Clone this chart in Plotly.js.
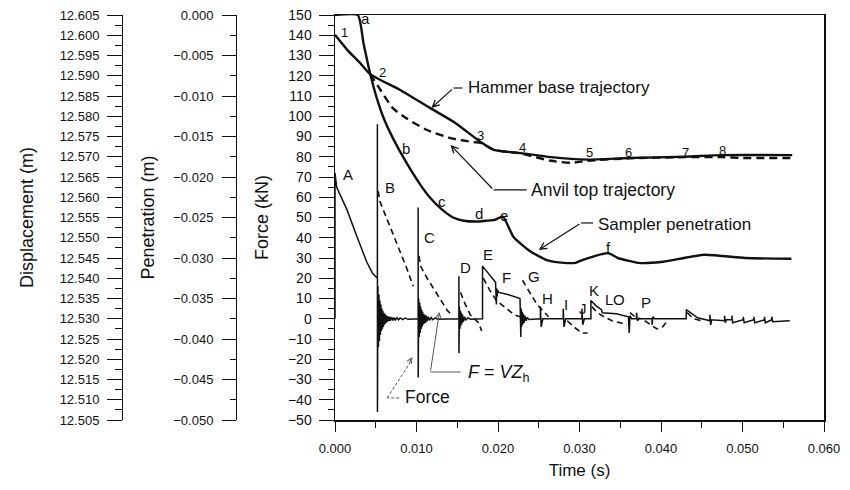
<!DOCTYPE html>
<html><head><meta charset="utf-8">
<script src="https://cdn.plot.ly/plotly-3.0.1.min.js"></script>
<style>html,body{margin:0;padding:0;background:#fff;}#chart{width:850px;height:490px;}</style>
</head><body><div id="chart"></div>
<script>
// ---------- data ----------
// Hammer base trajectory (displacement, m)
const hammerTime = [0, 0.0015, 0.0031, 0.0043, 0.0080, 0.0117, 0.0148, 0.0179, 0.0195, 0.0228, 0.0265, 0.0310, 0.0360, 0.0429, 0.0475, 0.0561];
const hammerDisp = [12.6001, 12.5964, 12.5931, 12.5904, 12.5865, 12.5820, 12.5783, 12.5736, 12.5717, 12.5709, 12.5699, 12.5693, 12.5697, 12.5700, 12.5704, 12.5704];
// Anvil top trajectory (displacement, m)
const anvilTime = [0.0043, 0.0052, 0.0071, 0.0089, 0.0113, 0.0142, 0.0170, 0.0179, 0.0195, 0.0228, 0.0265, 0.0290, 0.0310, 0.0360, 0.0429, 0.0475, 0.0500, 0.0561];
const anvilDisp = [12.5904, 12.5877, 12.5820, 12.5793, 12.5766, 12.5746, 12.5736, 12.5734, 12.5717, 12.5708, 12.5690, 12.5685, 12.5690, 12.5696, 12.5699, 12.5699, 12.5697, 12.5697];
// Sampler penetration (m)
const samplerTime = [0, 0.0028, 0.0035, 0.0043, 0.0052, 0.0060, 0.0071, 0.0088, 0.0105, 0.0117,
  0.0131, 0.0145, 0.0158, 0.0175, 0.0185, 0.0196, 0.0206, 0.0219, 0.0240, 0.0261,
  0.0281, 0.0295, 0.0305, 0.0335, 0.0347, 0.0372, 0.0400, 0.0453, 0.0503, 0.0560];
const samplerPen = [0, 0, -0.0035, -0.0072, -0.0105, -0.0128, -0.0152, -0.0183, -0.0210, -0.0226,
  -0.0240, -0.0250, -0.0254, -0.0255, -0.0254, -0.0253, -0.0249, -0.0274, -0.0292, -0.0303,
  -0.0306, -0.0306, -0.0302, -0.0294, -0.0300, -0.0306, -0.0305, -0.0296, -0.0300, -0.0301];
// Measured force (kN), one pair of arrays per stress-wave event
const forceA_t = [0, 0, 0.0002, 0.0015, 0.0027, 0.0039, 0.0046, 0.0052];
const forceA_f = [0, 72, 65, 53.5, 40.5, 28, 22.5, 20];
const forceB_t = [0.0052, 0.00521, 0.00527, 0.00533, 0.00539, 0.00545, 0.00551, 0.00557, 0.00563, 0.00569,
  0.00575, 0.00581, 0.00587, 0.00593, 0.00599, 0.00605, 0.00611, 0.00617, 0.00623, 0.00629,
  0.00635, 0.00641, 0.00650, 0.00660, 0.00670, 0.00680, 0.00695, 0.00710, 0.00725, 0.00740,
  0.00760, 0.00780, 0.0080, 0.0083, 0.0086, 0.0090, 0.0102];
const forceB_f = [96, -46, 16, -14, 12, -11, 9, -8, 7, -6,
  5, -5, 4, -4, 3, -3, 2.5, -2.5, 2, -2,
  1.5, -1.5, 1.2, -1.2, 1, -1, 0.8, -0.8, 0.6, -0.6,
  0.5, -0.5, 0.4, -0.4, 0.3, -0.3, 0];
const forceC_t = [0.0102, 0.01021, 0.01027, 0.01033, 0.01039, 0.01045, 0.01051, 0.01057, 0.01063, 0.01069,
  0.01075, 0.01081, 0.01087, 0.01093, 0.01100, 0.01110, 0.01120, 0.01130, 0.01145, 0.01160,
  0.01180, 0.01200, 0.0123, 0.0126, 0.0152];
const forceC_f = [55, -29, 10, -9, 8, -7, 6, -5, 4.5, -4,
  3.5, -3, 2.5, -2.5, 2, -2, 1.5, -1.2, 1, -0.8,
  0.6, -0.5, 0.4, -0.3, 0];
const forceD_t = [0.0152, 0.01521, 0.01527, 0.01533, 0.01539, 0.01545, 0.01551, 0.01557, 0.01565, 0.01575,
  0.01590, 0.01605, 0.0163, 0.0166, 0.0181];
const forceD_f = [21, -17, 6, -5, 4, -3.5, 3, -2.5, 2, -1.5,
  1, -0.8, 0.5, -0.3, 0];
const forceE_t = [0.0181, 0.0197, 0.0198, 0.01985, 0.0199, 0.01995, 0.0201, 0.0212, 0.0227];
const forceE_f = [26, 18, 7, 15, 11, 14, 13, 12, 10];
const forceG_t = [0.0228, 0.02285, 0.02291, 0.02297, 0.02303, 0.02310, 0.02320, 0.02330, 0.02345, 0.0236, 0.0238, 0.0252];
const forceG_f = [-9, 5, -4, 3.5, -3, 2.5, -2, 1.5, -1, 0.6, -0.4, 0];
const forceHJ_t = [0.0252, 0.0253, 0.0255, 0.0280, 0.0280, 0.0281, 0.0283, 0.0303, 0.0303, 0.0304, 0.0306, 0.0314];
const forceHJ_f = [6, -4, 0, 0, 5, -4, 0, 0, 5, -3, 0, 0];
const forceKP_t = [0.0314, 0.0320, 0.0327, 0.0328, 0.0345, 0.0360, 0.0361, 0.0362, 0.0364, 0.0370,
  0.0370, 0.0371, 0.0373, 0.0389, 0.0389, 0.0390, 0.0392, 0.0431];
const forceKP_f = [9, 6.5, 4.5, 3, 2.5, 1, -7, 1.5, 0, 0,
  3, -1, 0, 0, -3, 1, 0, 0];
const forceTail_t = [0.0431, 0.0445, 0.0460, 0.0460, 0.0461, 0.0462, 0.0478, 0.0478, 0.0479, 0.0480,
  0.0487, 0.0487, 0.0488, 0.0501, 0.0501, 0.0502, 0.0514, 0.0514, 0.0515, 0.0527,
  0.0527, 0.0528, 0.0536, 0.0536, 0.0537, 0.0558];
const forceTail_f = [4.5, 0.5, -1, 2, -3, -0.5, -1, 1.5, -2, -0.5,
  -0.5, 1.5, -2, -0.5, 1, -2, -0.5, 1, -2, -0.5,
  1, -2, -0.5, 1, -1.5, -1];
// F = V Zh (kN), separate wave segments
const vzTime = [0.0053, 0.0055, 0.0066, 0.0076, 0.0087, 0.0096, null,
  0.0103, 0.0105, 0.0113, 0.0121, 0.0130, 0.0138, 0.0143, null,
  0.0154, 0.0160, 0.0166, 0.0171, 0.0176, 0.0180, null,
  0.0182, 0.0190, 0.0198, 0.0210, 0.0220, 0.0227, null,
  0.0230, 0.0240, 0.0248, 0.0255, 0.0262, null,
  0.0285, 0.0293, 0.0303, 0.0310, null,
  0.0315, 0.0322, 0.0330, 0.0340, 0.0350, 0.0358, null,
  0.0362, 0.0368, 0.0375, null,
  0.0380, 0.0388, 0.0395, 0.0402, 0.0408, null,
  0.0432, 0.0440, 0.0450];
const vzVal = [63, 58, 47, 37, 26, 16, null,
  31, 26, 20, 15, 9, 4, 2, null,
  13, 7, 2, 0, -2, -6, null,
  20, 14, 9, 5, 2, 1, null,
  19, 12, 7, 4, 1, null,
  -1, -4, -7, -7, null,
  6, 3, 1, -1, -2, -3, null,
  3, 1, 0, null,
  -1, -3, -5, -4, -1, null,
  3, 0, -1];
// point labels
const trajLabels = ['1','2','3','4','5','6','7','8'];
const trajLabelT = [0.0012, 0.0058, 0.0179, 0.0230, 0.0312, 0.0360, 0.0430, 0.0476];
const trajLabelF = [141.5, 121.5, 90.7, 84.8, 82.3, 82.3, 82.3, 83.3];
const sampLabels = ['a','b','c','d','e','f'];
const sampLabelT = [0.0038, 0.00875, 0.0131, 0.0177, 0.0207, 0.0335];
const sampLabelF = [148.5, 84.3, 57.7, 52.2, 51.2, 35.4];
const waveLabels = ['A','B','C','D','E','F','G','H','I','J','K','L','O','P'];
const waveLabelT = [0.0016, 0.0068, 0.0116, 0.0160, 0.0188, 0.0211, 0.0244, 0.0261, 0.0283, 0.0304, 0.0318, 0.0336, 0.0349, 0.0382];
const waveLabelF = [71, 64.6, 39.9, 25.1, 31.5, 20.6, 21.1, 9.8, 6.8, 5.3, 14.2, 9.3, 9.3, 7.8];
const axisTitles = ['Displacement (m)', 'Penetration (m)', 'Force (kN)', 'Time (s)'];

// ---------- chart ----------
const FONT = 'Arial, "Liberation Sans", sans-serif';
const INK = '#111111';
const W = 824;

const forceTime = [].concat(forceA_t, forceB_t, forceC_t, forceD_t, forceE_t, forceG_t, forceHJ_t, forceKP_t, forceTail_t);
const forceVal = [].concat(forceA_f, forceB_f, forceC_f, forceD_f, forceE_f, forceG_f, forceHJ_f, forceKP_f, forceTail_f);

const traces = [
  {x: hammerTime, y: hammerDisp, yaxis: 'y3', mode: 'lines', line: {color: INK, width: 2.4, shape: 'spline', smoothing: 0.6}},
  {x: anvilTime, y: anvilDisp, yaxis: 'y3', mode: 'lines', line: {color: INK, width: 2.4, dash: '8px,5px', shape: 'spline', smoothing: 0.6}},
  {x: samplerTime, y: samplerPen, yaxis: 'y2', mode: 'lines', line: {color: INK, width: 2.4, shape: 'spline', smoothing: 0.5}},
  {x: forceTime, y: forceVal, mode: 'lines', line: {color: INK, width: 1.5}},
  {x: vzTime, y: vzVal, mode: 'lines', connectgaps: false, line: {color: INK, width: 1.6, dash: '6px,4px'}}
];

const ann = [];
trajLabels.forEach((s, i) => ann.push({x: trajLabelT[i], y: trajLabelF[i], text: s, showarrow: false, font: {size: 13}}));
sampLabels.forEach((s, i) => ann.push({x: sampLabelT[i], y: sampLabelF[i], text: s, showarrow: false, font: {size: 15}}));
waveLabels.forEach((s, i) => ann.push({x: waveLabelT[i], y: waveLabelF[i], text: s, showarrow: false, font: {size: 15}}));

// callouts
ann.push({x: 0.01602, y: 114, text: 'Hammer base trajectory', xanchor: 'left', showarrow: false, font: {size: 17}});
ann.push({x: 0.01183, y: 104.1, ax: 0.01454, ay: 113.95, axref: 'x', ayref: 'y', text: '', showarrow: true, arrowhead: 5, arrowsize: 1.1, arrowwidth: 1.2, arrowcolor: INK});
ann.push({x: 0.02378, y: 63.6, text: 'Anvil top trajectory', xanchor: 'left', showarrow: false, font: {size: 17.5}});
ann.push({x: 0.01417, y: 85.8, ax: 0.01947, ay: 63.6, axref: 'x', ayref: 'y', text: '', showarrow: true, arrowhead: 5, arrowsize: 1.1, arrowwidth: 1.2, arrowcolor: INK});
ann.push({x: 0.03203, y: 46.6, text: 'Sampler penetration', xanchor: 'left', showarrow: false, font: {size: 17}});
ann.push({x: 0.02501, y: 34.0, ax: 0.03018, ay: 47.3, axref: 'x', ayref: 'y', text: '', showarrow: true, arrowhead: 5, arrowsize: 1.1, arrowwidth: 1.2, arrowcolor: INK});
ann.push({x: 0.01602, y: -26.8, text: '<i>F</i> = <i>VZ</i><sub>h</sub>', xanchor: 'left', showarrow: false, font: {size: 18}});
ann.push({x: 0.01281, y: 3.3, ax: 0.0117, ay: -26.3, axref: 'x', ayref: 'y', text: '', showarrow: true, arrowhead: 5, arrowsize: 1, arrowwidth: 1, arrowcolor: '#555'});
ann.push({x: 0.00838, y: -38.6, text: 'Force', xanchor: 'left', showarrow: false, font: {size: 17.5}});
ann.push({x: 0.00949, y: -18.9, ax: -4, ay: 7, text: '', showarrow: true, arrowhead: 5, arrowsize: 1, arrowwidth: 1, arrowcolor: '#555'});

const shapes = [
  {type: 'line', xref: 'x', yref: 'y', x0: 0.01454, y0: 113.95, x1: 0.01565, y1: 113.95, line: {color: INK, width: 1.2}},
  {type: 'line', xref: 'x', yref: 'y', x0: 0.01947, y0: 63.6, x1: 0.02353, y1: 63.6, line: {color: INK, width: 1.2}},
  {type: 'line', xref: 'x', yref: 'y', x0: 0.03018, y0: 47.3, x1: 0.03166, y1: 47.3, line: {color: INK, width: 1.2}},
  {type: 'line', xref: 'x', yref: 'y', x0: 0.0117, y0: -26.3, x1: 0.0154, y1: -26.3, line: {color: '#555', width: 1}},
  {type: 'line', xref: 'x', yref: 'y', x0: 0.00788, y0: -39.1, x1: 0.00641, y1: -39.1, line: {color: '#555', width: 1, dash: '3px,2px'}},
  {type: 'line', xref: 'x', yref: 'y', x0: 0.00641, y0: -39.1, x1: 0.00938, y1: -20.6, line: {color: '#555', width: 1, dash: '3px,2px'}}
];

const yCommon = {showgrid: false, zeroline: false, showline: true, linecolor: INK, ticks: 'outside', tickcolor: INK, tickwidth: 1, tickfont: {size: 13}};

const layout = {
  width: 850, height: 490,
  margin: {l: 0, r: 850 - W, t: 15, b: 70},
  paper_bgcolor: '#fff', plot_bgcolor: '#fff',
  showlegend: false,
  font: {family: FONT, size: 13, color: INK},
  xaxis: {domain: [335 / W, 1], range: [0, 0.06], tick0: 0, dtick: 0.01, tickformat: '.3f',
    ticks: 'outside', ticklen: 10, tickcolor: INK, tickwidth: 1,
    minor: {dtick: 0.005, ticks: 'outside', ticklen: 6, tickcolor: INK},
    showline: true, linewidth: 1.5, linecolor: INK, mirror: true, showgrid: false, zeroline: false,
    ticklabelstandoff: 6, tickfont: {size: 13},
    title: {text: axisTitles[3], font: {size: 17}, standoff: 9}},
  yaxis: Object.assign({}, yCommon, {range: [-50, 150], tick0: 0, dtick: 10, ticklen: 15, linewidth: 1.5, mirror: true,
    minor: {dtick: 5, ticks: 'outside', ticklen: 6, tickcolor: INK},
    ticklabelstandoff: 4, tickfont: {size: 14},
    title: {text: axisTitles[2], font: {size: 18}, standoff: 14}}),
  yaxis2: Object.assign({}, yCommon, {overlaying: 'y', anchor: 'free', position: 236 / W, side: 'left',
    range: [-0.05, 0], tick0: 0, dtick: 0.005, tickformat: '.3f', ticklen: 14, linewidth: 1.2,
    minor: {dtick: 0.0025, ticks: 'outside', ticklen: 6, tickcolor: INK},
    ticklabelstandoff: 6,
    title: {text: axisTitles[1], font: {size: 18}, standoff: 12}}),
  yaxis3: Object.assign({}, yCommon, {overlaying: 'y', anchor: 'free', position: 122 / W, side: 'left',
    range: [12.505, 12.605], tick0: 12.505, dtick: 0.005, tickformat: '.3f', ticklen: 15, linewidth: 1.2,
    minor: {dtick: 0.0025, ticks: 'outside', ticklen: 7, tickcolor: INK},
    ticklabelstandoff: 5,
    title: {text: axisTitles[0], font: {size: 18}, standoff: 20}}),
  annotations: ann,
  shapes: shapes
};

Plotly.newPlot('chart', traces, layout, {staticPlot: true, displayModeBar: false});
</script></body></html>
